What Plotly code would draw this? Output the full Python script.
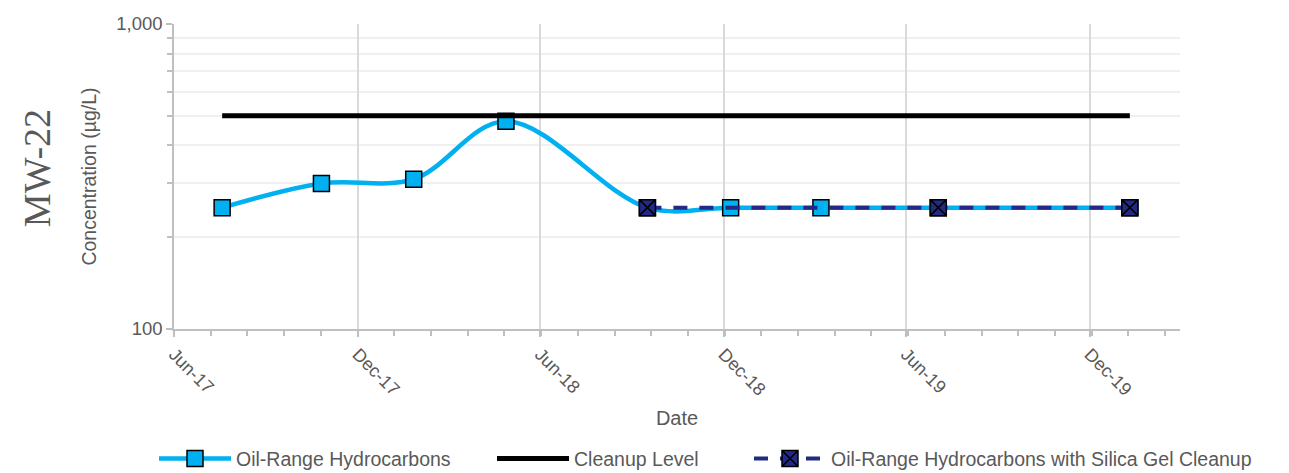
import plotly.graph_objects as go

# Sampling dates and concentrations (µg/L)
sample_dates = ["2017-07-19", "2017-10-26", "2018-01-26", "2018-04-28", "2018-09-16",
                "2018-12-08", "2019-03-08", "2019-07-03", "2020-01-10"]
oil_range = [250, 300, 310, 480, 250, 250, 250, 250, 250]

silica_dates = ["2018-09-16", "2019-07-03", "2020-01-10"]
silica_gel = [250, 250, 250]

cleanup_dates = ["2017-07-19", "2020-01-10"]
cleanup_level = [500, 500]

x_tick_dates = ["2017-06-01", "2017-12-01", "2018-06-01", "2018-12-01", "2019-06-01", "2019-12-01"]
x_tick_labels = ["Jun-17", "Dec-17", "Jun-18", "Dec-18", "Jun-19", "Dec-19"]
y_tick_values = [100, 1000]
y_tick_labels = ["100", "1,000"]
y_minor_values = [200, 300, 400, 500, 600, 700, 800, 900]

TEXT = "#595959"
FONT = "Liberation Sans, Arial, sans-serif"

fig = go.Figure()

fig.add_trace(go.Scatter(
    x=sample_dates, y=oil_range, name="Oil-Range Hydrocarbons",
    mode="lines+markers", legend="legend",
    line=dict(color="#00B0F0", width=4.5, shape="spline", smoothing=1),
    marker=dict(symbol="square", size=16, color="#00B0F0",
                line=dict(color="#000000", width=1.5)),
))

fig.add_trace(go.Scatter(
    x=cleanup_dates, y=cleanup_level, name="Cleanup Level",
    mode="lines", legend="legend2",
    line=dict(color="#000000", width=5),
))

fig.add_trace(go.Scatter(
    x=silica_dates, y=silica_gel, name="Oil-Range Hydrocarbons with Silica Gel Cleanup",
    mode="lines+markers", legend="legend3",
    line=dict(color="#232A86", width=4, dash="14px,12px"),
    marker=dict(symbol="square-x", size=16, color="#232A86",
                line=dict(color="#000000", width=1.5)),
))


def legend_box(x_px):
    # one legend entry per box, placed along the bottom of the figure
    return dict(orientation="h", x=x_px / 1289, xref="container", xanchor="left",
                y=0.03, yref="container", yanchor="middle",
                font=dict(size=19.5, color=TEXT), itemwidth=72,
                bgcolor="rgba(0,0,0,0)")


fig.update_layout(
    width=1289, height=473,
    margin=dict(l=174, r=109, t=24, b=144, autoexpand=False),
    paper_bgcolor="white", plot_bgcolor="white",
    font=dict(family=FONT, color=TEXT, size=18),
    showlegend=True,
    legend=legend_box(154),
    legend2=legend_box(492),
    legend3=legend_box(749),
    annotations=[dict(
        text="MW-22", xref="paper", yref="paper", x=-0.136, y=0.528,
        xanchor="center", yanchor="middle", textangle=-90, showarrow=False,
        font=dict(family="Liberation Serif, Times New Roman, serif", size=38, color=TEXT),
    )],
)

fig.update_xaxes(
    type="date", range=["2017-06-01", "2020-02-29"], automargin=False,
    tickmode="array", tickvals=x_tick_dates, ticktext=x_tick_labels,
    tickangle=45, tickfont=dict(size=18, color=TEXT),
    showline=True, linecolor="#BFBFBF", linewidth=1.5,
    ticks="outside", ticklen=6, tickcolor="#BFBFBF", tickwidth=1.5,
    showgrid=True, gridcolor="#D9D9D9", gridwidth=1.5, zeroline=False,
    minor=dict(tickmode="linear", tick0="2017-06-01", dtick=36.6 * 86400000,
               ticks="outside", ticklen=5, tickcolor="#BFBFBF", tickwidth=1.5,
               showgrid=False),
    title=dict(text="Date", font=dict(size=20, color=TEXT), standoff=12),
)

fig.update_yaxes(
    type="log", range=[2, 3], automargin=False,
    tickmode="array", tickvals=y_tick_values, ticktext=y_tick_labels,
    tickfont=dict(size=18.5, color=TEXT),
    showline=True, linecolor="#BFBFBF", linewidth=1.5,
    ticks="outside", ticklen=6, tickcolor="#BFBFBF", tickwidth=1.5,
    showgrid=True, gridcolor="#D9D9D9", gridwidth=1.5, zeroline=False,
    minor=dict(tickmode="array", tickvals=y_minor_values,
               ticks="outside", ticklen=5, tickcolor="#BFBFBF", tickwidth=1.5,
               showgrid=True, gridcolor="#F0F0F0", gridwidth=1.5),
    title=dict(text="Concentration (µg/L)", font=dict(size=19.5, color=TEXT), standoff=14),
)

fig.write_html("out.html")
